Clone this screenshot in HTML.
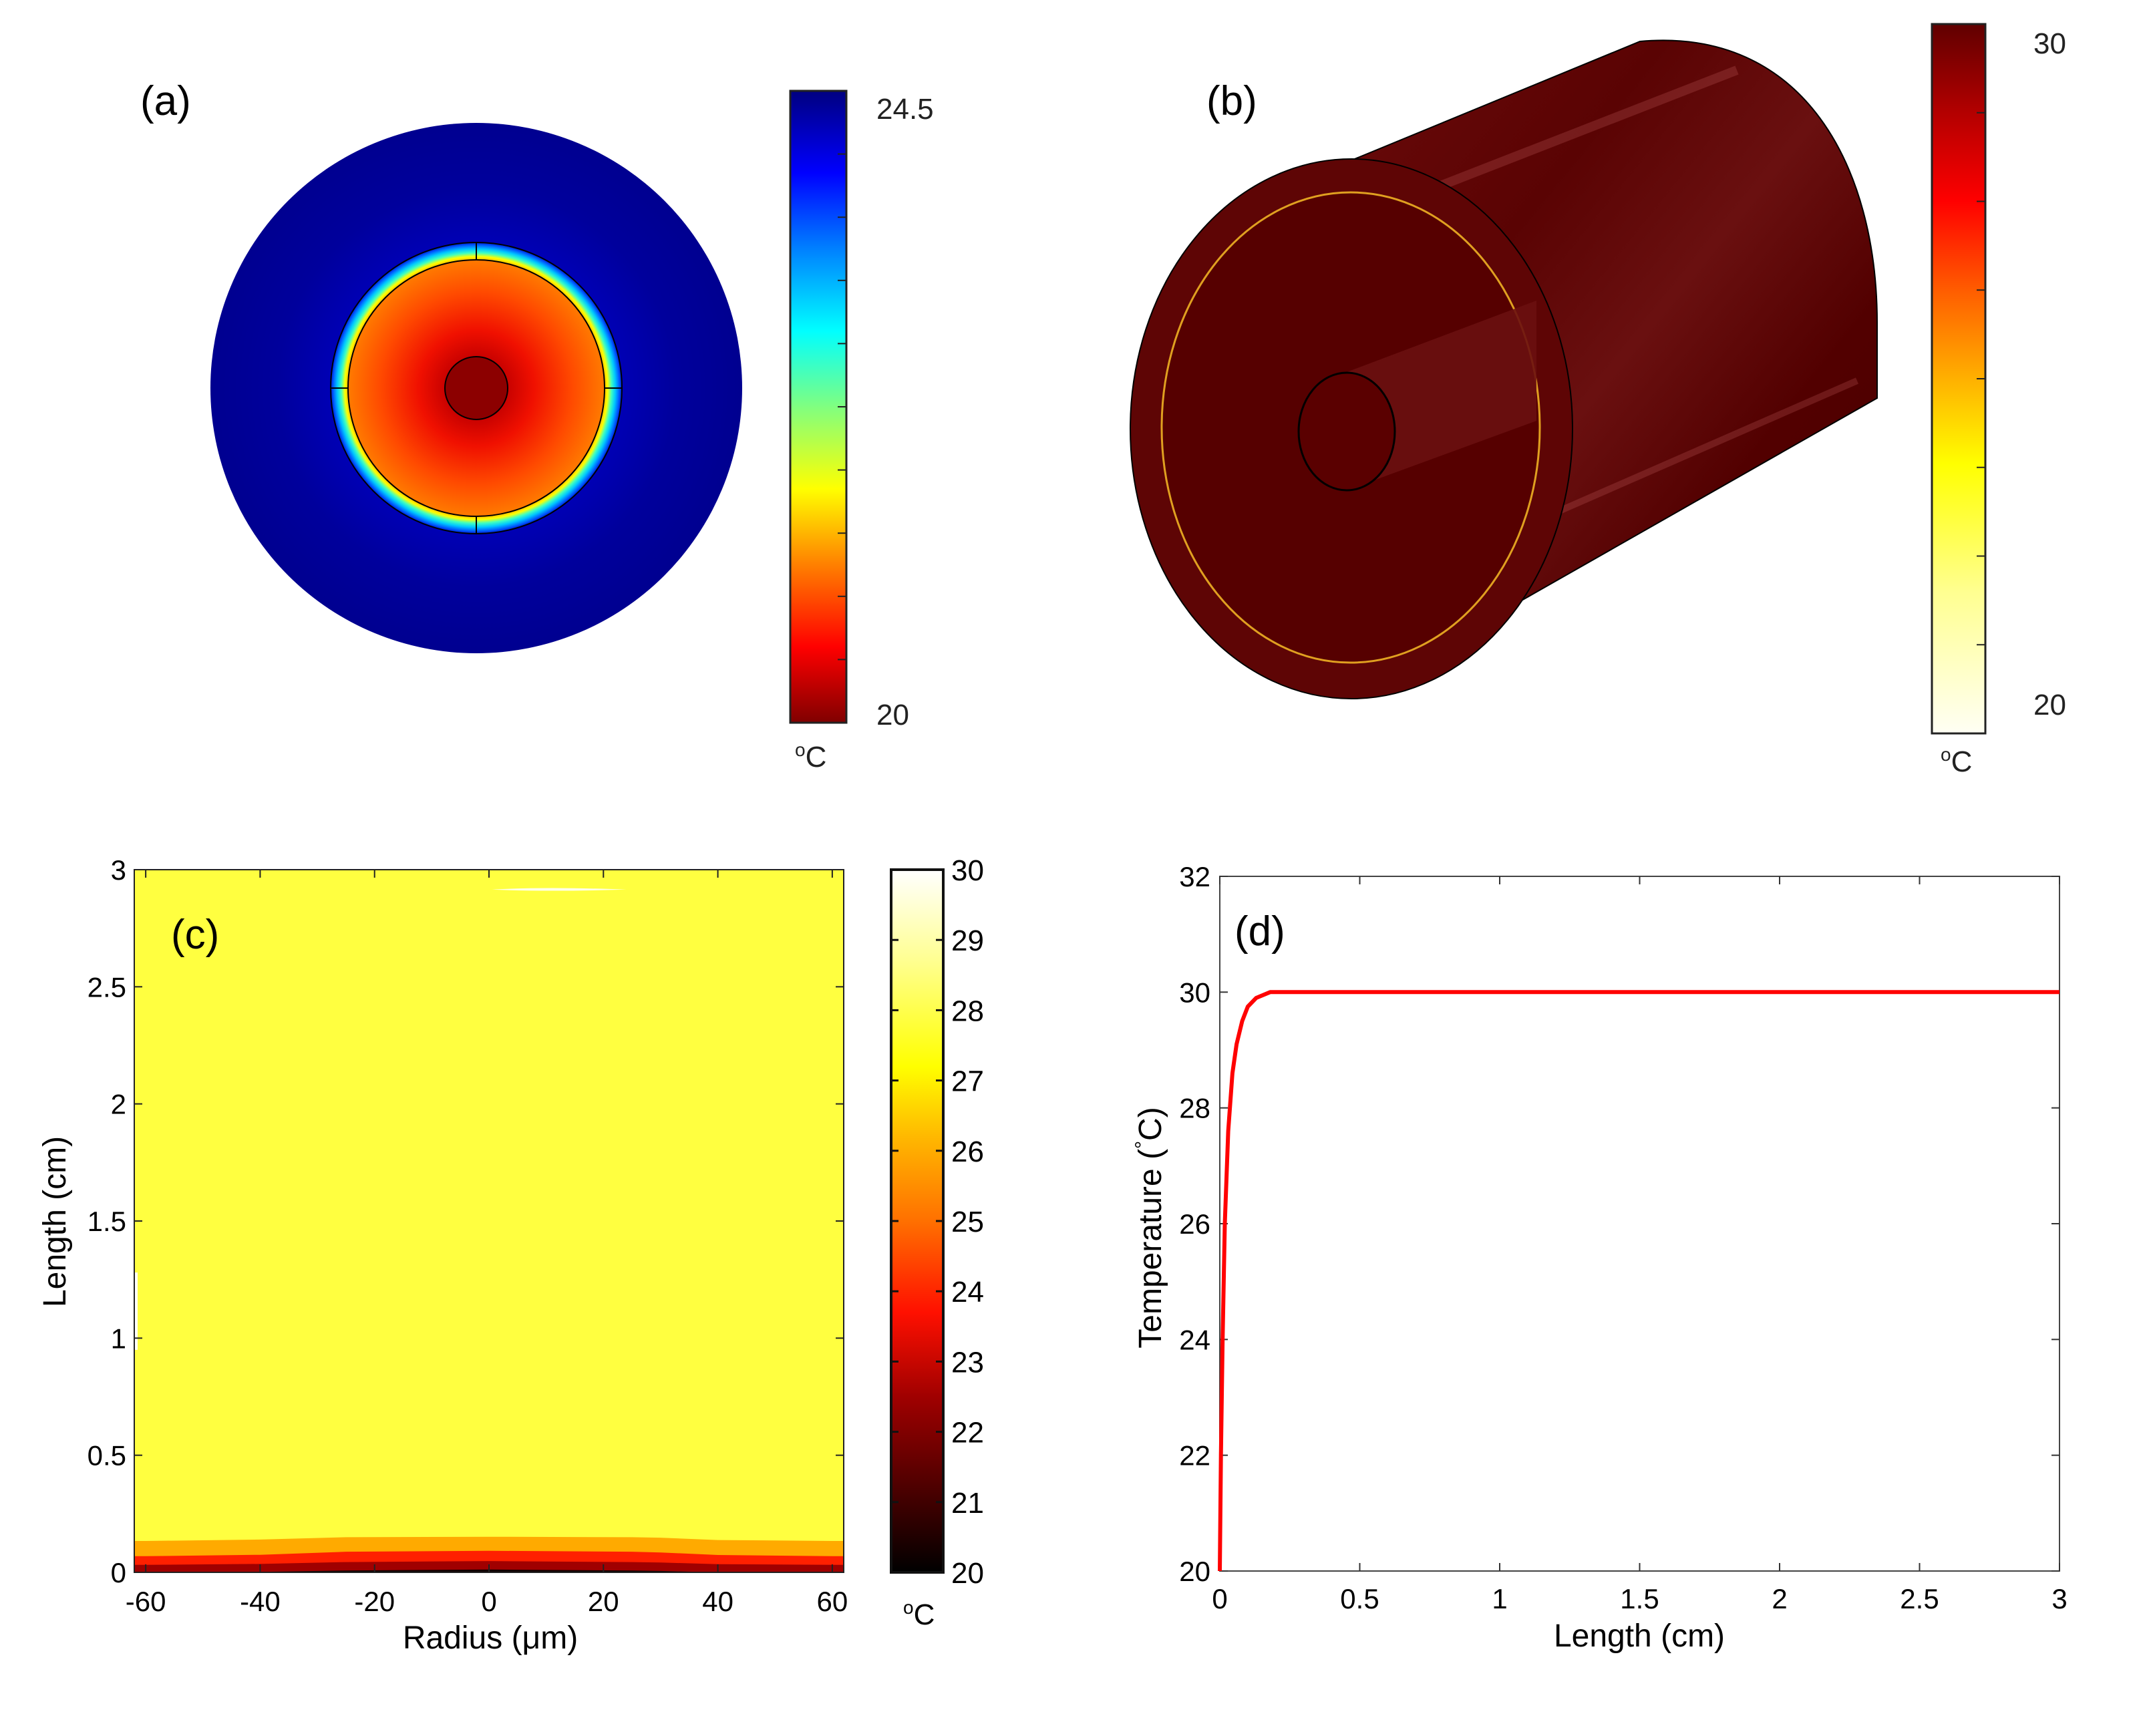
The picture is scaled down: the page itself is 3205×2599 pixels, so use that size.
<!DOCTYPE html>
<html><head><meta charset="utf-8">
<style>
html,body{margin:0;padding:0;background:#fff;}
svg{display:block;font-family:"Liberation Sans",Arial,sans-serif;}
</style></head>
<body>
<svg id="fig" width="3205" height="2599" viewBox="0 0 3205 2599" xmlns="http://www.w3.org/2000/svg">
<defs>
  <radialGradient id="coreGrad" cx="713" cy="581" r="192" gradientUnits="userSpaceOnUse">
    <stop offset="0" stop-color="#8c0000"/>
    <stop offset="0.22" stop-color="#c40000"/>
    <stop offset="0.45" stop-color="#f01000"/>
    <stop offset="0.75" stop-color="#ff4a00"/>
    <stop offset="1" stop-color="#ff7a00"/>
  </radialGradient>
  <radialGradient id="ringGrad" cx="713" cy="581" r="230" gradientUnits="userSpaceOnUse">
    <stop offset="0.83" stop-color="#ffb000"/>
    <stop offset="0.855" stop-color="#ffff00"/>
    <stop offset="0.88" stop-color="#40ffc0"/>
    <stop offset="0.905" stop-color="#00c8ff"/>
    <stop offset="0.93" stop-color="#0060ff"/>
    <stop offset="0.95" stop-color="#0010d0"/>
  </radialGradient>
  <radialGradient id="outerGrad" cx="713" cy="581" r="398" gradientUnits="userSpaceOnUse">
    <stop offset="0.55" stop-color="#0000b4"/>
    <stop offset="0.75" stop-color="#00009c"/>
    <stop offset="1" stop-color="#000090"/>
  </radialGradient>
  <linearGradient id="jetBar" x1="0" y1="1" x2="0" y2="0">
    <stop offset="0" stop-color="#800000"/>
    <stop offset="0.12" stop-color="#ff0000"/>
    <stop offset="0.25" stop-color="#ff8000"/>
    <stop offset="0.37" stop-color="#ffff00"/>
    <stop offset="0.5" stop-color="#80ff80"/>
    <stop offset="0.62" stop-color="#00ffff"/>
    <stop offset="0.75" stop-color="#0080ff"/>
    <stop offset="0.87" stop-color="#0000ff"/>
    <stop offset="1" stop-color="#000080"/>
  </linearGradient>
  <linearGradient id="hotBarB" x1="0" y1="1" x2="0" y2="0">
    <stop offset="0" stop-color="#fffff4"/>
    <stop offset="0.2" stop-color="#ffff90"/>
    <stop offset="0.38" stop-color="#ffff00"/>
    <stop offset="0.5" stop-color="#ffb000"/>
    <stop offset="0.62" stop-color="#ff6000"/>
    <stop offset="0.75" stop-color="#ff0000"/>
    <stop offset="0.88" stop-color="#b00000"/>
    <stop offset="1" stop-color="#600000"/>
  </linearGradient>
  <linearGradient id="hotBarC" x1="0" y1="1" x2="0" y2="0">
    <stop offset="0" stop-color="#000000"/>
    <stop offset="0.1" stop-color="#400000"/>
    <stop offset="0.25" stop-color="#a00000"/>
    <stop offset="0.37" stop-color="#ff1000"/>
    <stop offset="0.5" stop-color="#ff7000"/>
    <stop offset="0.62" stop-color="#ffb800"/>
    <stop offset="0.72" stop-color="#ffff00"/>
    <stop offset="0.87" stop-color="#ffff90"/>
    <stop offset="1" stop-color="#ffffff"/>
  </linearGradient>
  <linearGradient id="cylGrad" x1="0" y1="0" x2="1" y2="1">
    <stop offset="0" stop-color="#6a0a0a"/>
    <stop offset="0.3" stop-color="#5a0303"/>
    <stop offset="0.5" stop-color="#6a1010"/>
    <stop offset="0.7" stop-color="#520000"/>
    <stop offset="1" stop-color="#4a0000"/>
  </linearGradient>
</defs>

<!-- Panel (a) -->
<g>
  <text x="210" y="172" font-size="62">(a)</text>
  <ellipse cx="713" cy="581" rx="398" ry="397" fill="url(#outerGrad)"/>
  <circle cx="713" cy="581" r="218" fill="url(#ringGrad)" stroke="#000" stroke-width="2"/>
  <circle cx="713" cy="581" r="192" fill="url(#coreGrad)" stroke="#000" stroke-width="2"/>
  <circle cx="713" cy="581" r="47" fill="#8c0000" stroke="#000" stroke-width="2"/>
  <g stroke="#000" stroke-width="2">
    <line x1="713" y1="363" x2="713" y2="389"/><line x1="713" y1="773" x2="713" y2="799"/>
    <line x1="495" y1="581" x2="521" y2="581"/><line x1="905" y1="581" x2="931" y2="581"/>
  </g>
  <rect x="1183" y="136" width="84" height="946" fill="url(#jetBar)" stroke="#222" stroke-width="3"/>
  <g id="ticksA" stroke="#222" stroke-width="2"></g>
  <text x="1312" y="178" font-size="44" fill="#222">24.5</text>
  <text x="1312" y="1085" font-size="44" fill="#222">20</text>
  <text x="1190" y="1148" font-size="44" fill="#222"><tspan font-size="28" dy="-16">o</tspan><tspan dy="16">C</tspan></text>
</g>

<!-- Panel (b) -->
<g>
  <text x="1806" y="172" font-size="62">(b)</text>
  <path d="M2023,240 L2455,62 C2700,40 2810,250 2810,483 L2810,596 L2023,1044 Z" fill="url(#cylGrad)" stroke="#000" stroke-width="2"/>
  <g opacity="0.22" stroke="#d87070">
    <line x1="2100" y1="300" x2="2600" y2="105" stroke-width="14"/>
    <line x1="2300" y1="780" x2="2780" y2="570" stroke-width="10"/>
  </g>
  <ellipse cx="2023" cy="642" rx="331" ry="404" fill="#5e0505" stroke="#000" stroke-width="2"/>
  <ellipse cx="2022" cy="640" rx="283" ry="352" fill="#560000" stroke="#e0a020" stroke-width="3"/>
  <path d="M2016,557 L2300,450 L2300,630 L2016,734 Z" fill="#6a1010" opacity="0.9"/>
  <ellipse cx="2016" cy="646" rx="72" ry="88" fill="#5a0000" stroke="#000" stroke-width="3"/>
  <rect x="2892" y="36" width="80" height="1062" fill="url(#hotBarB)" stroke="#222" stroke-width="3"/>
  <g id="ticksB" stroke="#222" stroke-width="2"></g>
  <text x="3044" y="80" font-size="44" fill="#222">30</text>
  <text x="3044" y="1070" font-size="44" fill="#222">20</text>
  <text x="2905" y="1155" font-size="44" fill="#222"><tspan font-size="28" dy="-16">o</tspan><tspan dy="16">C</tspan></text>
</g>

<g id="panelC"></g>
<g id="panelD"></g>
</svg>

<script>
// ---------- Panel (c) data ----------
const radiusPts = [-62, -60, -40, -25, 0, 25, 30, 40, 60, 62];
const band27 = [0.134, 0.134, 0.140, 0.150, 0.152, 0.150, 0.148, 0.138, 0.134, 0.134];
const band25 = [0.069, 0.069, 0.075, 0.088, 0.092, 0.088, 0.085, 0.074, 0.069, 0.069];
const band23 = [0.032, 0.032, 0.036, 0.044, 0.048, 0.044, 0.042, 0.035, 0.032, 0.032];
const band21 = [0.0, 0.0, 0.002, 0.008, 0.012, 0.008, 0.006, 0.0, 0.0, 0.0];
const cXTicks = [-60, -40, -20, 0, 20, 40, 60];
const cYTicks = [0, 0.5, 1, 1.5, 2, 2.5, 3];
const cYTickLabels = ["0", "0.5", "1", "1.5", "2", "2.5", "3"];
const cBarTicks = [20, 21, 22, 23, 24, 25, 26, 27, 28, 29, 30];

// ---------- Panel (d) data ----------
const lenPts = [0, 0.004, 0.01, 0.018, 0.03, 0.045, 0.06, 0.08, 0.1, 0.13, 0.18, 0.25, 1, 2, 3];
const tempPts = [20, 22, 24, 26, 27.6, 28.6, 29.1, 29.5, 29.75, 29.9, 30, 30, 30, 30, 30];
const dXTicks = [0, 0.5, 1, 1.5, 2, 2.5, 3];
const dXTickLabels = ["0", "0.5", "1", "1.5", "2", "2.5", "3"];
const dYTicks = [20, 22, 24, 26, 28, 30, 32];

const NS = "http://www.w3.org/2000/svg";
function mk(tag, attrs, parent) {
  const e = document.createElementNS(NS, tag);
  for (const k in attrs) e.setAttribute(k, attrs[k]);
  parent.appendChild(e);
  return e;
}

(function () {
  const ga = document.getElementById('ticksA');
  for (let i = 1; i < 10; i++) {
    const y = 136 + i * 946 / 10;
    const t = mk('line', {x1: 1254, x2: 1267, y1: y, y2: y}, ga);
    
    
  }
  const gb = document.getElementById('ticksB');
  for (let i = 1; i < 8; i++) {
    const y = 36 + i * 1062 / 8;
    const t = mk('line', {x1: 2959, x2: 2972, y1: y, y2: y}, gb);
    
    
  }
})();

(function () {
  const g = document.getElementById('panelC');
  const L = 201, R = 1263, T = 1302, B = 2354;
  const xS = v => L + (v - (-62)) / 124 * (R - L);
  const yS = v => B - v / 3 * (B - T);
  const bg = mk('rect', {x: L, y: T, width: R - L, height: B - T, fill: '#ffff40'}, g);
  
  
  const bands = [[band27, '#ffaa00', 'contour-level-26'], [band25, '#ff2000', 'contour-level-24'], [band23, '#a00000', 'contour-level-22'], [band21, '#100000', 'contour-level-20']];
  bands.forEach(b => {
    let d = 'M' + xS(radiusPts[0]) + ',' + yS(0);
    radiusPts.forEach((r, i) => { d += ' L' + xS(r) + ',' + yS(b[0][i]); });
    d += ' L' + xS(radiusPts[radiusPts.length - 1]) + ',' + yS(0) + ' Z';
    const p = mk('path', {d: d, fill: b[1]}, g);
    
    
  });
  const w1 = mk('path', {d: `M${xS(0.5)},${yS(2.915)} Q${xS(10)},${yS(2.928)} ${xS(24)},${yS(2.915)} Q${xS(10)},${yS(2.905)} ${xS(0.5)},${yS(2.915)} Z`, fill: '#ffffe8'}, g);
  
  
  const w2 = mk('rect', {x: L, y: yS(1.28), width: 5, height: yS(0.95) - yS(1.28), fill: '#ffffff'}, g);
  
  
  const fr = mk('rect', {x: L, y: T, width: R - L, height: B - T, fill: 'none', stroke: '#222', 'stroke-width': 2}, g);
  
  
  cXTicks.forEach(v => {
    const x = xS(v);
    mk('line', {x1: x, x2: x, y1: B, y2: B - 12, stroke: '#222', 'stroke-width': 2}, g);
    mk('line', {x1: x, x2: x, y1: T, y2: T + 12, stroke: '#222', 'stroke-width': 2}, g);
    const t = mk('text', {x: x, y: B + 58, 'font-size': 42, 'text-anchor': 'middle'}, g);
    t.textContent = String(v);
    
    
  });
  cYTicks.forEach((v, i) => {
    const y = yS(v);
    mk('line', {x1: L, x2: L + 12, y1: y, y2: y, stroke: '#222', 'stroke-width': 2}, g);
    mk('line', {x1: R, x2: R - 12, y1: y, y2: y, stroke: '#222', 'stroke-width': 2}, g);
    const t = mk('text', {x: L - 12, y: y + 15, 'font-size': 42, 'text-anchor': 'end'}, g);
    t.textContent = cYTickLabels[i];
    
    
  });
  const xt = mk('text', {x: 734, y: 2468, 'font-size': 48, 'text-anchor': 'middle'}, g);
  xt.textContent = 'Radius (μm)';
  
  
  const yt = mk('text', {x: 0, y: 0, 'font-size': 48, 'text-anchor': 'middle', transform: 'translate(98,1829) rotate(-90)'}, g);
  yt.textContent = 'Length (cm)';
  
  
  const lab = mk('text', {x: 256, y: 1420, 'font-size': 62}, g);
  lab.textContent = '(c)';
  
  
  const cb = mk('rect', {x: 1334, y: T, width: 78, height: B - T, fill: 'url(#hotBarC)', stroke: '#111', 'stroke-width': 4}, g);
  
  
  const cbS = v => B - (v - 20) / 10 * (B - T);
  cBarTicks.forEach(v => {
    const y = cbS(v);
    if (v > 20 && v < 30) {
      mk('line', {x1: 1334, x2: 1345, y1: y, y2: y, stroke: '#111', 'stroke-width': 3}, g);
      mk('line', {x1: 1412, x2: 1401, y1: y, y2: y, stroke: '#111', 'stroke-width': 3}, g);
    }
    const t = mk('text', {x: 1424, y: y + 16, 'font-size': 44}, g);
    t.textContent = String(v);
    
    
  });
  const u = mk('text', {x: 1352, y: 2432, 'font-size': 44}, g);
  u.innerHTML = '<tspan font-size="28" dy="-16">o</tspan><tspan dy="16">C</tspan>';
  
  
})();

(function () {
  const g = document.getElementById('panelD');
  const L = 1826, R = 3083, T = 1312, B = 2352;
  const xS = v => L + v / 3 * (R - L);
  const yS = v => B - (v - 20) / 12 * (B - T);
  const fr = mk('rect', {x: L, y: T, width: R - L, height: B - T, fill: '#fff', stroke: '#444', 'stroke-width': 2}, g);
  
  
  dXTicks.forEach((v, i) => {
    const x = xS(v);
    mk('line', {x1: x, x2: x, y1: B, y2: B - 12, stroke: '#333', 'stroke-width': 2}, g);
    mk('line', {x1: x, x2: x, y1: T, y2: T + 12, stroke: '#333', 'stroke-width': 2}, g);
    const t = mk('text', {x: x, y: B + 56, 'font-size': 42, 'text-anchor': 'middle'}, g);
    t.textContent = dXTickLabels[i];
    
    
  });
  dYTicks.forEach(v => {
    const y = yS(v);
    mk('line', {x1: L, x2: L + 12, y1: y, y2: y, stroke: '#333', 'stroke-width': 2}, g);
    mk('line', {x1: R, x2: R - 12, y1: y, y2: y, stroke: '#333', 'stroke-width': 2}, g);
    const t = mk('text', {x: L - 14, y: y + 15, 'font-size': 42, 'text-anchor': 'end'}, g);
    t.textContent = String(v);
    
    
  });
  let d = '';
  lenPts.forEach((v, i) => { d += (i ? ' L' : 'M') + xS(v).toFixed(1) + ',' + yS(tempPts[i]).toFixed(1); });
  const ln = mk('path', {d: d, fill: 'none', stroke: '#ff0000', 'stroke-width': 6, 'stroke-linejoin': 'round'}, g);
  
  
  const xt = mk('text', {x: 2454, y: 2465, 'font-size': 48, 'text-anchor': 'middle'}, g);
  xt.textContent = 'Length (cm)';
  
  
  const yt = mk('text', {x: 0, y: 0, 'font-size': 48, 'text-anchor': 'middle', transform: 'translate(1738,1838) rotate(-90)'}, g);
  yt.innerHTML = 'Temperature (<tspan font-size="30" dy="-18">°</tspan><tspan dy="18">C)</tspan>';
  
  
  const lab = mk('text', {x: 1848, y: 1415, 'font-size': 62}, g);
  lab.textContent = '(d)';
  
  
})();
</script>
</body></html>
